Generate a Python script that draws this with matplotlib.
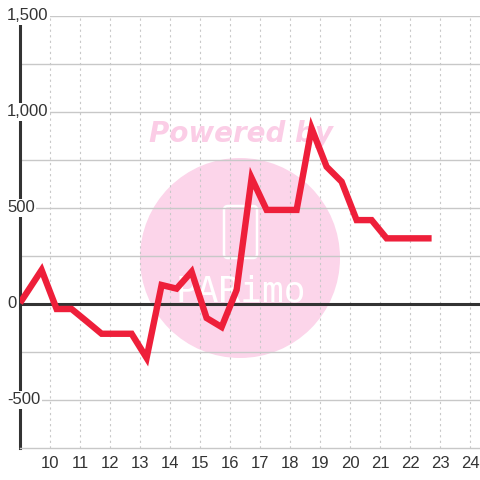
import matplotlib
matplotlib.use('Agg')
import matplotlib.pyplot as plt
from matplotlib.patches import Circle, FancyBboxPatch

# ── data ────────────────────────────────────────────────────
hours = [9.0, 9.72, 10.22, 10.72, 11.22, 11.72, 12.22, 12.72, 13.22, 13.72,
         14.22, 14.72, 15.22, 15.72, 16.22, 16.72, 17.22, 17.72, 18.22, 18.72,
         19.22, 19.72, 20.22, 20.72, 21.22, 21.72, 22.22, 22.72]
values = [5, 177, -26, -26, -90, -155, -155, -155, -281, 99,
          80, 168, -73, -120, 73, 656, 490, 490, 490, 915,
          715, 637, 437, 437, 342, 342, 342, 342]

x_ticks = list(range(10, 25))
y_grid = [-500, -250, 250, 500, 750, 1000, 1250, 1500]
y_labels = {1500: '1,500', 1000: '1,000', 500: '500', 0: '0', -500: '-500'}

plt.rcParams['font.family'] = ['Liberation Sans', 'DejaVu Sans']

fig = plt.figure(figsize=(4.8, 4.8), dpi=100)
ax = fig.add_axes([20/480, 32/480, 460/480, 432/480])
ax.set_xlim(9.0, 24.333)
ax.set_ylim(-750, 1500)

# watermark (pixel positions, origin bottom-left), sits under the grid
ax.add_patch(Circle((240, 222), 100, transform=None, color='#fcd5ea', zorder=0.5, lw=0))
ax.add_patch(FancyBboxPatch((224, 222), 33, 52, boxstyle='round,pad=0,rounding_size=4',
                            transform=None, fill=False, ec='white', lw=1.8, zorder=0.6))
ax.text(241/480, 1 - 291/480, 'PARimo', color='white', fontsize=26,
        family='DejaVu Sans Mono', ha='center', va='center', zorder=0.6,
        transform=fig.transFigure)
ax.text(241/480, 1 - 134/480, 'Powered by', color='#fbcde6', fontsize=20,
        fontweight='bold', style='italic', family='DejaVu Sans',
        ha='center', va='center', zorder=2, transform=fig.transFigure)

# grid
for v in x_ticks:
    ax.axvline(v, color='#c8c8c8', lw=0.8, ls=(0, (2, 3)), zorder=1)
for v in y_grid:
    ax.axhline(v, color='#c8c8c8', lw=1.0, zorder=1)
ax.axhline(0, color='#333333', lw=2.2, zorder=3)

ax.plot(hours, values, color='#ee1f3a', lw=4.6, solid_joinstyle='miter',
        solid_capstyle='butt', zorder=4)

# axes styling
for s in ['top', 'right']:
    ax.spines[s].set_visible(False)
ax.spines['left'].set_color('#333333')
ax.spines['left'].set_linewidth(2.2)
ax.spines['bottom'].set_color('#c8c8c8')
ax.spines['bottom'].set_linewidth(1.0)

ax.set_xticks(x_ticks)
ax.set_yticks([])
ax.tick_params(axis='x', length=0, pad=5.5, labelsize=12, labelcolor='#333333')

for v, lab in y_labels.items():
    ax.text(-13/460, v, lab, transform=ax.get_yaxis_transform(),
            ha='left', va='center', fontsize=12, color='#333333', clip_on=False,
            zorder=6, bbox=dict(facecolor='white', edgecolor='none', pad=1.0))

fig.savefig('out.png', dpi=100)
